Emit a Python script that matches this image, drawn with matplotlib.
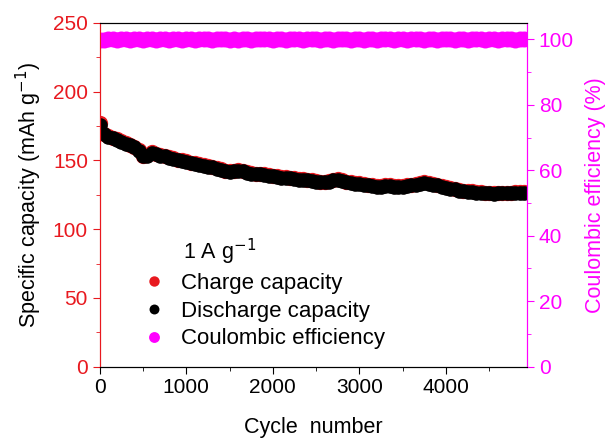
import numpy as np
import matplotlib.pyplot as plt

plt.rcParams['font.family'] = ['Liberation Sans', 'DejaVu Sans']

cycles = [1] + list(range(50, 4901, 50))

discharge = [176, 169, 167, 166, 165, 163.5, 162, 161, 159.5, 157,
             153, 153.5, 155.5, 154.5, 153.5, 153, 152, 151, 150, 149.5,
             149, 148, 147.5, 147, 146, 145.5, 145, 144, 143, 142,
             141.5, 142, 142.5, 142, 141, 140.5, 140, 140, 139.5, 139,
             138.5, 138, 137.5, 137.5, 137, 136.5, 136, 136, 135.5, 135,
             134.5, 134, 134, 134.5, 135.5, 136, 135, 134, 133.5, 133,
             133, 132.5, 132, 131.5, 131, 131, 131.5, 131.5, 131, 131,
             131, 131.5, 132, 132.5, 133, 133.5, 133, 132.5, 132, 131,
             130, 129.5, 129, 128, 127.5, 127, 127, 126.5, 126.5, 126,
             126, 125.5, 126, 126, 126, 126, 126.5, 126.5, 126.5]

charge = [177, 169.5, 167.5, 166.5, 165.5, 164, 162.5, 161.5, 160, 157.5,
          153.5, 154, 156, 155, 154, 153.5, 152.5, 151.5, 150.5, 150,
          149.5, 148.5, 148, 147.5, 146.5, 146, 145.5, 144.5, 143.5, 142.5,
          142, 142.5, 143, 142.5, 141.5, 141, 140.5, 140.5, 140, 139.5,
          139, 138.5, 138, 138, 137.5, 137, 136.5, 136.5, 136, 135.5,
          135, 134.5, 134.5, 135, 136, 136.5, 135.5, 134.5, 134, 133.5,
          133.5, 133, 132.5, 132, 131.5, 131.5, 132, 132, 131.5, 131.5,
          131.5, 132, 132.5, 133, 133.5, 134, 133.5, 133, 132.5, 131.5,
          130.5, 130, 129.5, 128.5, 128, 127.5, 127.5, 127, 127, 126.5,
          126.5, 126, 126.5, 126.5, 126.5, 126.5, 127, 127, 127]

efficiency = [99.8, 99.9, 100.0, 100.1, 99.9, 100.0, 100.2, 99.9, 100.0, 100.1,
              99.8, 100.0, 100.1, 99.9, 100.2, 100.0, 99.9, 100.1, 100.0, 99.8,
              100.0, 100.1, 99.9, 100.0, 100.2, 100.0, 99.9, 100.1, 100.0, 100.1,
              99.9, 100.0, 99.8, 100.0, 100.1, 99.9, 100.0, 100.1, 100.2, 100.0,
              99.9, 100.0, 100.1, 99.9, 100.0, 100.2, 100.0, 99.9, 100.1, 100.0,
              100.1, 99.8, 100.0, 100.1, 99.9, 100.0, 100.2, 100.0, 99.9, 100.1,
              100.0, 99.8, 100.1, 100.0, 99.9, 100.1, 100.0, 100.2, 99.9, 100.0,
              100.1, 99.9, 100.0, 100.1, 100.0, 99.8, 100.0, 100.1, 99.9, 100.0,
              100.2, 100.0, 99.9, 100.1, 100.0, 99.9, 100.1, 100.0, 100.2, 99.9,
              100.0, 100.1, 99.9, 100.0, 100.1, 100.0, 99.9, 100.1, 100.0]

red = '#e8191f'
mag = '#ff00ff'

fig = plt.figure(figsize=(6.06, 4.38), dpi=100)
ax = fig.add_axes([0.1645, 0.1628, 0.705, 0.7847])
ax2 = ax.twinx()

h1, = ax.plot(cycles, charge, 'o', color=red, ms=11, mec='none', label='Charge capacity')
h2, = ax.plot(cycles, discharge, 'o', color='black', ms=10.5, mec='none', label='Discharge capacity')
h3, = ax2.plot(cycles, efficiency, 'o', color=mag, ms=11.5, mec='none', label='Coulombic efficiency')

ax.set_xlim(0, 4935)
ax.set_ylim(0, 250)
ax2.set_ylim(0, 105)

ax.set_xticks([0, 1000, 2000, 3000, 4000])
ax.set_xticks(np.arange(500, 4900, 1000), minor=True)
ax.set_yticks([0, 50, 100, 150, 200, 250])
ax.set_yticks(np.arange(25, 250, 50), minor=True)
ax2.set_yticks([0, 20, 40, 60, 80, 100])
ax2.set_yticks(np.arange(10, 100, 20), minor=True)

ax.tick_params(axis='x', which='both', direction='out', labelsize=15, colors='black')
ax.tick_params(axis='x', which='major', length=5)
ax.tick_params(axis='x', which='minor', length=3)
ax.tick_params(axis='y', which='both', direction='out', labelsize=15, colors=red)
ax.tick_params(axis='y', which='major', length=5)
ax.tick_params(axis='y', which='minor', length=3)
ax2.tick_params(axis='y', which='both', direction='out', labelsize=15, colors=mag)
ax2.tick_params(axis='y', which='major', length=5)
ax2.tick_params(axis='y', which='minor', length=3)

ax2.spines['left'].set_color(red)
ax2.spines['right'].set_color(mag)
ax.spines['left'].set_color(red)
ax.spines['right'].set_color(mag)

ax.set_xlabel('Cycle  number', fontsize=15.5, labelpad=14)
ax.set_ylabel('Specific capacity (mAh g$^{-1}$)', fontsize=15.5, labelpad=6)
ax2.set_ylabel('Coulombic efficiency (%)', fontsize=15.5, color=mag, labelpad=8)

ax2.text(0.195, 0.334, '1 A g$^{-1}$', transform=ax.transAxes, fontsize=15.5, va='center')
ax2.legend(handles=[h1, h2, h3], loc='lower left', bbox_to_anchor=(0.054, -0.008),
           frameon=False, fontsize=16, markerscale=0.68, handletextpad=0.7,
           handlelength=1.0, labelspacing=0.3)

fig.savefig('out.png', dpi=100)
